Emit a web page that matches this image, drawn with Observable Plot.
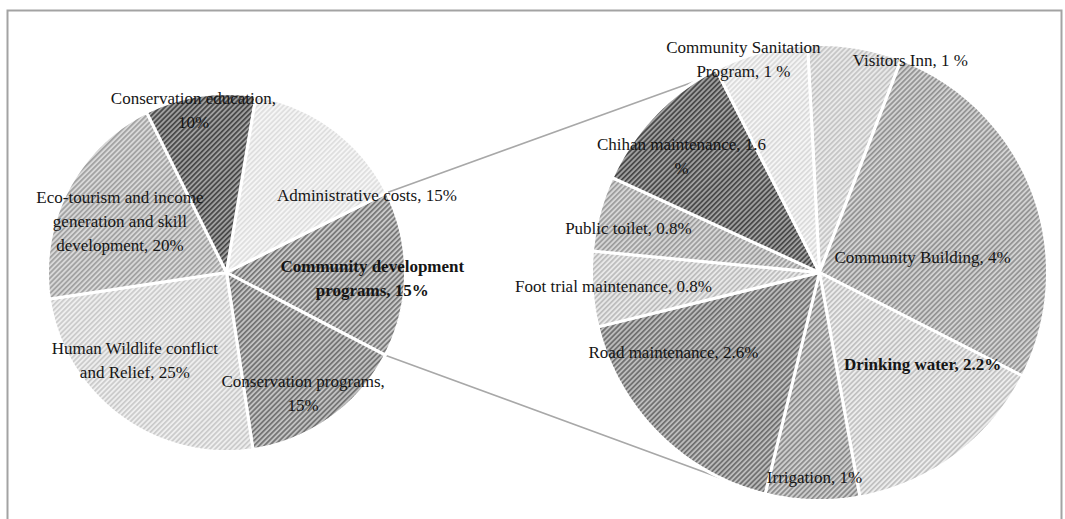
<!DOCTYPE html>
<html><head><meta charset="utf-8">
<script src="https://cdn.jsdelivr.net/npm/d3@7"></script>
<script src="https://cdn.jsdelivr.net/npm/@observablehq/plot@0.6"></script>
<style>html,body{margin:0;padding:0;background:#fff} svg{display:block}</style>
</head><body><div id="chart"></div>
<script>
// ---- data ----
const mainCategories = ["Community development programs","Conservation programs","Human Wildlife conflict and Relief","Eco-tourism and income generation and skill development","Conservation education","Administrative costs"];
const mainValues = [15, 15, 25, 20, 10, 15];
const mainLabels = ["Community development\nprograms, 15%","Conservation programs,\n15%","Human Wildlife conflict\nand Relief, 25%","Eco-tourism and income\ngeneration and skill\ndevelopment, 20%","Conservation education,\n10%","Administrative costs, 15%"];
const subCategories = ["Visitors Inn","Community Building","Drinking water","Irrigation","Road maintenance","Foot trial maintenance","Public toilet","Chihan maintenance","Community Sanitation Program"];
const subValues = [1, 4, 2.2, 1, 2.6, 0.8, 0.8, 1.6, 1];
const subLabels = ["Visitors Inn, 1 %","Community Building, 4%","Drinking water, 2.2%","Irrigation, 1%","Road maintenance, 2.6%","Foot trial maintenance, 0.8%","Public toilet, 0.8%","Chihan maintenance, 1.6\n%","Community Sanitation\nProgram, 1 %"];
const mainBold = [true,false,false,false,false,false];
const subBold = [false,false,true,false,false,false,false,false,false];

// ---- styles / layout ----
const W = 1065, H = 519;
const mainPie = {cx: 226, cy: 272, r: 179, start: 63.5};
const subPie = {cx: 819, cy: 272, r: 228, start: -3};
const mainBg = ["#c8c8c8","#c2c2c2","#eeeeee","#d8d8d8","#a0a0a0","#f5f5f5"];
const mainFg = ["#767676","#727272","#cacaca","#a0a0a0","#464646","#dedede"];
const subBg = ["#e9e9e9","#d2d2d2","#ececec","#cecece","#bcbcbc","#e8e8e8","#d6d6d6","#a0a0a0","#f5f5f5"];
const subFg = ["#c4c4c4","#929292","#c0c0c0","#8a8a8a","#6e6e6e","#bcbcbc","#9c9c9c","#464646","#dadada"];
// label placement: radius fraction and angle offset (deg) from slice mid-angle
const mainLabelK = [0.815, 0.79, 0.70, 0.666, 0.934, 0.90];
const mainLabelDA = [1.1, 2.7, 10.5, -0.9, -2.9, 24.1];
const subLabelK = [1.02, 0.458, 0.60, 0.89, 0.726, 0.905, 0.862, 0.796, 1.0];
const subLabelDA = [14, 11.6, -12.3, -0.4, 16.9, 0.9, -1.5, -3.3, -4.5];
const connectorSubAngles = [327, 195];

const rad = d => d * Math.PI / 180;
const polar = (p, rr, deg) => ({x: p.cx + rr * Math.sin(rad(deg)), y: p.cy - rr * Math.cos(rad(deg))});

function slices(pieDef, values) {
  const arcs = d3.pie().sort(null).value(d => d)
    .startAngle(rad(pieDef.start)).endAngle(rad(pieDef.start + 360))(values);
  return arcs.map(a => {
    const a0 = a.startAngle * 180 / Math.PI, a1 = a.endAngle * 180 / Math.PI;
    const n = Math.max(4, Math.ceil(a1 - a0));
    const pts = [{x: pieDef.cx, y: pieDef.cy}];
    for (let i = 0; i <= n; i++) pts.push(polar(pieDef, pieDef.r, a0 + (a1 - a0) * i / n));
    return {a0, a1, mid: (a0 + a1) / 2, pts};
  });
}
const mainSlices = slices(mainPie, mainValues);
const subSlices = slices(subPie, subValues);

function labelRows(sl, pieDef, labels, K, DA, bold) {
  return sl.map((s, i) => ({...polar(pieDef, pieDef.r * K[i], s.mid + DA[i]), text: labels[i], bold: bold[i]}));
}
const labels = [
  ...labelRows(mainSlices, mainPie, mainLabels, mainLabelK, mainLabelDA, mainBold),
  ...labelRows(subSlices, subPie, subLabels, subLabelK, subLabelDA, subBold)
];

// connectors: from main pie "Community development" slice edges to sub pie
const cd = mainSlices[0];
const connectors = [
  [polar(mainPie, mainPie.r, cd.a0), polar(subPie, subPie.r, connectorSubAngles[0])],
  [polar(mainPie, mainPie.r, cd.a1), polar(subPie, subPie.r, connectorSubAngles[1])]
];

const font = "'Liberation Serif', 'DejaVu Serif', serif";
const textOpts = {x: "x", y: "y", text: "text", fontSize: 17, lineHeight: 1.41, fontFamily: font, fill: "#151515"};
const marks = [
  Plot.frame({stroke: "#a3a3a3", strokeWidth: 2, insetLeft: 7, insetTop: 10, insetRight: 4, insetBottom: -20}),
  ...connectors.map(c => Plot.line(c, {x: "x", y: "y", stroke: "#a8a8a8", strokeWidth: 1.6})),
  ...mainSlices.map((s, i) => Plot.line(s.pts, {x: "x", y: "y", curve: "linear-closed", fill: `url(#pm${i})`, stroke: "#fff", strokeWidth: 3, strokeLinejoin: "miter"})),
  ...subSlices.map((s, i) => Plot.line(s.pts, {x: "x", y: "y", curve: "linear-closed", fill: `url(#ps${i})`, stroke: "#fff", strokeWidth: 3, strokeLinejoin: "miter"})),
  Plot.text(labels.filter(d => !d.bold), textOpts),
  Plot.text(labels.filter(d => d.bold), {...textOpts, fontWeight: "bold"})
];

const chart = Plot.plot({
  width: W, height: H,
  margin: 0,
  x: {domain: [0, W], range: [0, W], axis: null},
  y: {domain: [0, H], range: [0, H], axis: null},
  style: {background: "#fff", fontFamily: font},
  marks
});

// hatch patterns
const svg = d3.select(chart);
const defs = svg.insert("defs", ":first-child");
function addPattern(id, bg, fg) {
  const p = defs.append("pattern").attr("id", id).attr("patternUnits", "userSpaceOnUse")
    .attr("width", 3.6).attr("height", 3.6).attr("patternTransform", "rotate(45)");
  p.append("rect").attr("width", 3.6).attr("height", 3.6).attr("fill", bg);
  p.append("rect").attr("width", 1.7).attr("height", 3.6).attr("fill", fg);
}
mainBg.forEach((bg, i) => addPattern(`pm${i}`, bg, mainFg[i]));
subBg.forEach((bg, i) => addPattern(`ps${i}`, bg, subFg[i]));

document.getElementById("chart").appendChild(chart);
</script>
</body></html>
